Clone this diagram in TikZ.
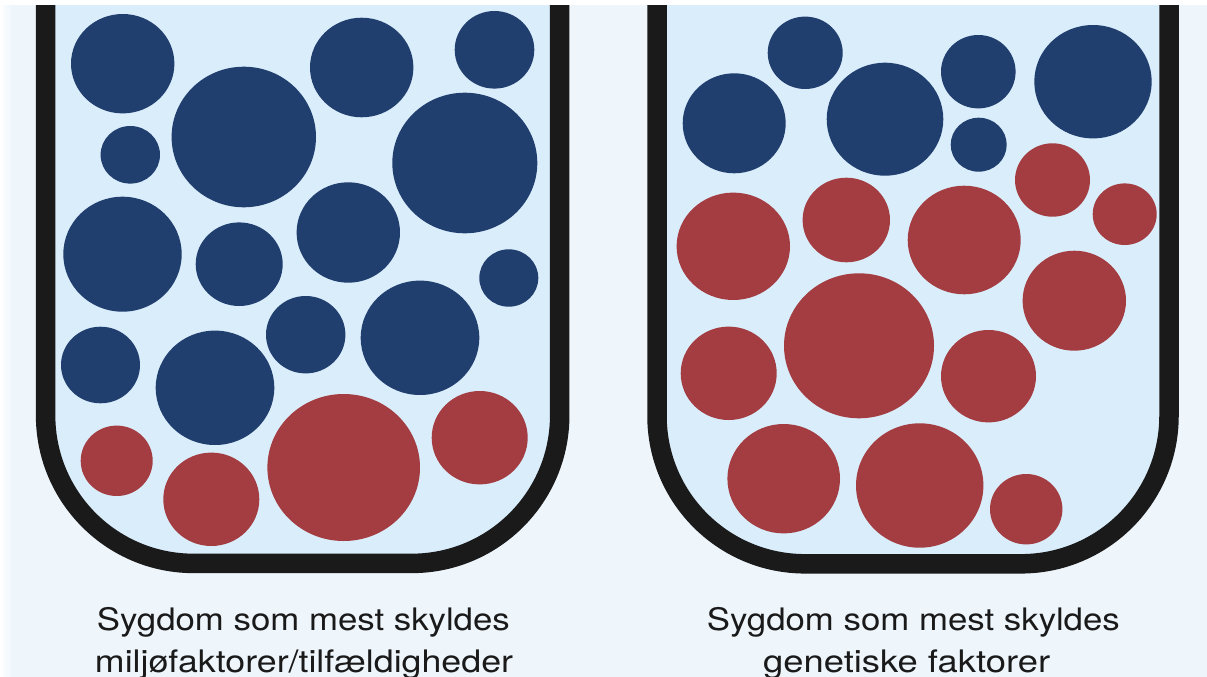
\documentclass[tikz,border=0pt]{standalone}
\usepackage{fontspec}
\usepackage{graphicx}
\newfontfamily\hvfont{TeX Gyre Heros}
\definecolor{bgc}{RGB}{238,246,252}
\definecolor{innerc}{RGB}{218,237,251}
\definecolor{bluec}{RGB}{33,63,110}
\definecolor{redc}{RGB}{163,61,65}
\definecolor{wallc}{RGB}{26,26,26}
\newcommand\bub[5]{\fill[#1] (#2,#3) ellipse [x radius=#4, y radius=#5];}
\tikzset{
  tube/.style={fill=innerc, draw=wallc, line width=19.5pt, rounded corners=148pt},
  lbl/.style={anchor=base, inner sep=0pt, text=wallc, font=\hvfont\fontsize{31}{31}\selectfont}
}
\begin{document}
\begin{tikzpicture}[x=1pt,y=-1pt]
\useasboundingbox (0,0) rectangle (1207,677);
\clip (0,0) rectangle (1207,677);
\fill[bgc] (0,0) rectangle (1207,677);
\shade[left color=white, right color=bgc] (0,0) rectangle (12,677);
% containers
\filldraw[tube] (45.6,5) -- (45.6,563.4) -- (559.7,563.4) -- (559.7,5);
\filldraw[tube] (657,5) -- (657,563.8) -- (1169,563.8) -- (1169,5);
% left container, blue
\bub{bluec}{122.7}{63.7}{51.7}{49.7}
\bub{bluec}{130.3}{154.8}{29.7}{28.8}
\bub{bluec}{243.8}{137}{72.2}{70.3}
\bub{bluec}{361.7}{67.5}{51.7}{49.8}
\bub{bluec}{494.5}{49.8}{39.8}{38.8}
\bub{bluec}{464.8}{163}{72.5}{70.3}
\bub{bluec}{122.5}{254.2}{59.2}{57.5}
\bub{bluec}{239.2}{264.2}{43.5}{41.8}
\bub{bluec}{348.3}{232.5}{51.7}{50.2}
\bub{bluec}{508.8}{278}{29.5}{28.7}
\bub{bluec}{100.5}{365}{39.5}{38.3}
\bub{bluec}{215}{387.8}{59.3}{57.2}
\bub{bluec}{305.7}{334.7}{39.7}{38.7}
\bub{bluec}{420}{337.8}{59.3}{57.2}
% left container, red
\bub{redc}{116.7}{460.8}{36}{35.2}
\bub{redc}{211.3}{499.3}{48}{46.7}
\bub{redc}{343.7}{467.5}{76.3}{73.5}
\bub{redc}{479.7}{437.7}{48}{46.7}
% right container, blue
\bub{bluec}{805.2}{52.8}{37.5}{36.2}
\bub{bluec}{734.2}{123.3}{51.5}{50}
\bub{bluec}{885}{119.2}{58.3}{56.5}
\bub{bluec}{978.3}{71.7}{37.3}{36.7}
\bub{bluec}{978.7}{144.7}{28}{27}
\bub{bluec}{1093}{81.7}{58.7}{56.7}
% right container, red
\bub{redc}{1052.5}{180}{37.5}{36.7}
\bub{redc}{1124.7}{214.2}{32}{30.8}
\bub{redc}{733.3}{246.3}{56.7}{53.7}
\bub{redc}{846.3}{220}{43.7}{42.3}
\bub{redc}{964.2}{240}{56.5}{54.3}
\bub{redc}{1074.3}{300.7}{51.7}{50}
\bub{redc}{859}{345.8}{75}{72.5}
\bub{redc}{728.7}{373.3}{48}{46.7}
\bub{redc}{988.5}{376.2}{47.5}{46.2}
\bub{redc}{783.7}{478.7}{56.3}{54.7}
\bub{redc}{919.7}{485.5}{63.7}{62.2}
\bub{redc}{1026.2}{509.2}{36.2}{35.2}
% white top strip
\fill[white] (0,0) rectangle (1207,5);
% labels
\node[lbl] (la1) at (303.3,630) {\resizebox{413pt}{\height}{Sygdom som mest skyldes}};
\node[lbl] (la2) at (304,672) {\resizebox{418pt}{\height}{miljøfaktorer/tilfældigheder}};
\node[lbl] (lb1) at (913.3,630) {\resizebox{413pt}{\height}{Sygdom som mest skyldes}};
\node[lbl] (lb2) at (906.7,672) {\resizebox{287pt}{\height}{genetiske faktorer}};
\end{tikzpicture}
\end{document}
